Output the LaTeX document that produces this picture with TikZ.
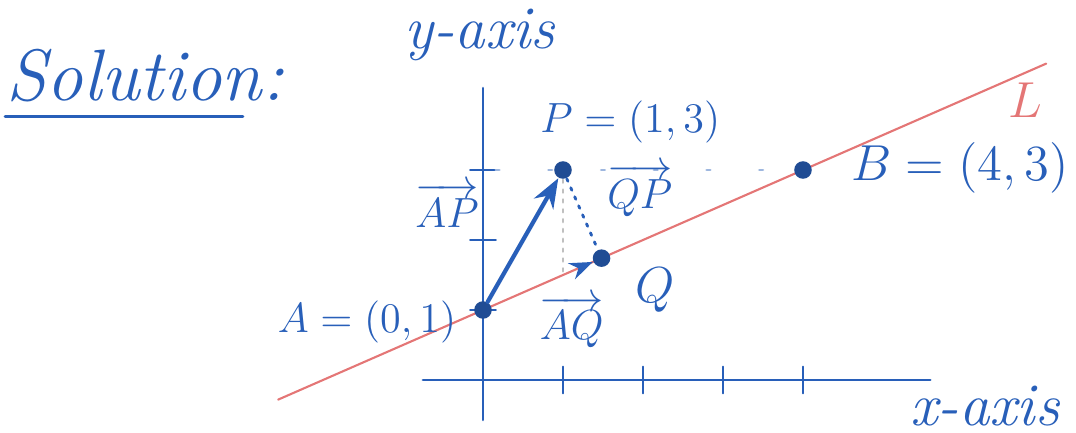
\documentclass[tikz,border=0pt]{standalone}
\usepackage{amsmath,amssymb}
\usetikzlibrary{arrows.meta,calc,positioning}
\definecolor{inkblue}{RGB}{40,95,185}
\definecolor{linered}{RGB}{228,118,118}

\begin{document}
\begin{tikzpicture}[>=Stealth,line cap=round,x=0.8cm,y=0.7cm,
 ptdot/.style={circle,fill=inkblue!80!black,inner sep=0pt,minimum size=5pt},
 ink/.style={inkblue,thick},
 tickmark/.style={inkblue,semithick}]
 \useasboundingbox (-6.0375,-0.7429) rectangle (7.4125,5.4286);
 % axes
 \draw[ink] (-0.75,0) -- (5.59,0);
 \draw[ink] (0,-0.57) -- (0,4.17);
 \foreach \i in {1,...,4}
  \draw[tickmark] (\i,-0.19) -- (\i,0.19);
 \foreach \j in {1,2,3}
  \draw[tickmark] (-0.16,\j) -- (0.16,\j);
 \node[font=\LARGE\itshape,inkblue] (yname) at (-0.04,4.93) {y-axis};
 \node[font=\LARGE\itshape,inkblue] (xname) at (6.275,-0.37) {x-axis};
 % points
 \coordinate (A) at (0,1);
 \coordinate (P) at (1,3);
 \coordinate (B) at (4,3);
 \coordinate (Q) at ($(A)!(P)!(B)$);
 \coordinate (Pfoot) at (1,1.5);
 \coordinate (Ytick) at (0.16,3);
 % line L
 \draw[linered,semithick] ($(A)!-0.64!(B)$) -- ($(A)!1.76!(B)$);
 \node[font=\Large,linered] (Lname) at (6.775,4.0) {$L$};
 % helper dots
 \draw[inkblue!45,thick,dash pattern=on 1pt off 14pt] (Ytick) -- (B);
 \draw[gray!50,thick,dotted] (P) -- (Pfoot);
 \node[ptdot] (Adot) at (A) {};
 \node[ptdot] (Pdot) at (P) {};
 \node[ptdot] (Bdot) at (B) {};
 \node[ptdot] (Qdot) at (Q) {};
 \draw[inkblue,thick,dotted] (Pdot) -- (Qdot);
 % vectors
 \draw[->,inkblue,very thick] (Adot) -- (Pdot);
 \draw[->,inkblue,thick] ($(A)!0.85!(Q)$) -- (Qdot);
 % labels
 \node[font=\large,inkblue] (Pname) at (1.84,3.69) {$P=(1,3)$};
 \node[font=\Large,inkblue,anchor=west] (Bname) at (4.45,3.03) {$B=(4,3)$};
 \node[font=\large,inkblue,anchor=east] (Aname) at (-0.18,0.83) {$A=(0,1)$};
 \node[font=\Large,inkblue] (Qname) at (2.15,1.29) {$Q$};
 \node[font=\large,inkblue] (QPname) at (1.96,2.71) {$\overrightarrow{QP}$};
 \node[font=\large,inkblue] (APname) at (-0.45,2.5) {$\overrightarrow{AP}$};
 \node[font=\large,inkblue] (AQname) at (1.11,0.83) {$\overrightarrow{AQ}$};
 % title
 \node[font=\huge\itshape,inkblue,anchor=base west,inner sep=0pt] (sol) at (-5.96,4.0) {Solution:};
 \draw[ink] (-5.975,3.77) -- (-3.0,3.77);
\end{tikzpicture}
\end{document}
